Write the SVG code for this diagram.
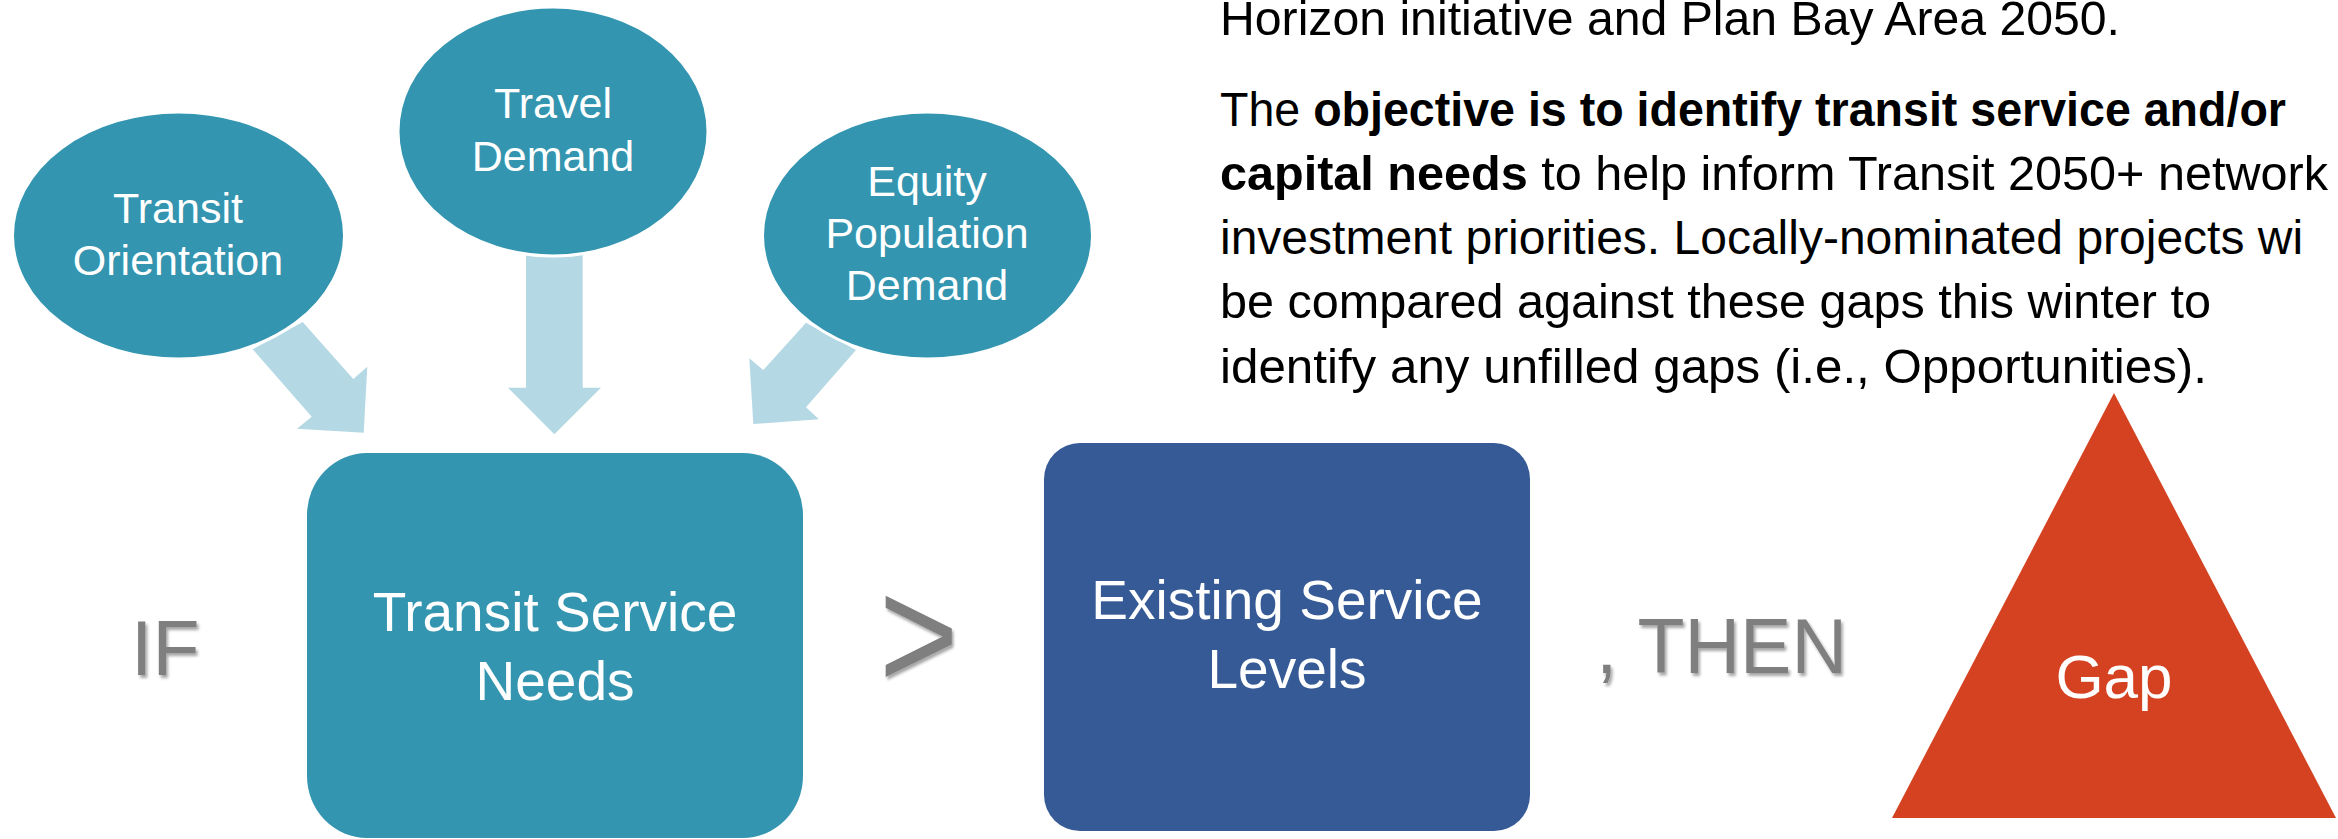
<svg xmlns="http://www.w3.org/2000/svg" width="2338" height="839" viewBox="0 0 2338 839">
<defs>
<style>
.t{font-family:"Liberation Sans",Arial,sans-serif;}
.wt{fill:#ffffff;text-anchor:middle;}
.gr{fill:#7f7f7f;}
.arrow{fill:#b5d9e4;}
.teal{fill:#3395b0;}
.para{font-family:"Liberation Sans",Arial,sans-serif;font-size:48px;fill:#000000;}
.b{font-weight:bold;}
</style>
<filter id="sh" x="-20%" y="-20%" width="140%" height="140%">
<feDropShadow dx="2" dy="3" stdDeviation="1.5" flood-color="#000000" flood-opacity="0.35"/>
</filter>
</defs>
<rect width="2338" height="839" fill="#ffffff"/>

<g id="connectors">
<polygon class="arrow" points="252.7,349.3 302.7,322 353.3,379 367.3,366.7 363.7,432.7 297,428.7 311.7,416.7"/>
<polygon class="arrow" points="526,240 582.7,240 582.7,387.7 601,387.7 554.3,434.3 508,387.7 526,387.7"/>
<polygon class="arrow" points="806,322.7 856,350 806,407.3 819,419.3 753.3,424 749.3,358.3 763.3,370"/>
</g>

<g id="transit-orientation">
<ellipse class="teal" cx="178.5" cy="235.5" rx="166" ry="123.5" stroke="#ffffff" stroke-width="3"/>
<text class="t wt" font-size="43" x="178" y="222.7">Transit</text>
<text class="t wt" font-size="43" x="178" y="275">Orientation</text>
</g>

<g id="travel-demand">
<ellipse class="teal" cx="553" cy="131.5" rx="155" ry="124.5" stroke="#ffffff" stroke-width="3"/>
<text class="t wt" font-size="43" x="553" y="118">Travel</text>
<text class="t wt" font-size="43" x="553" y="170.5">Demand</text>
</g>

<g id="equity-population-demand">
<ellipse class="teal" cx="927.5" cy="235.5" rx="165" ry="123.5" stroke="#ffffff" stroke-width="3"/>
<text class="t wt" font-size="43" x="927" y="196">Equity</text>
<text class="t wt" font-size="43" x="927" y="248">Population</text>
<text class="t wt" font-size="43" x="927" y="300">Demand</text>
</g>

<g id="if-label">
<text class="t gr" font-size="77" x="131" y="675" filter="url(#sh)">IF</text>
</g>

<g id="transit-service-needs">
<rect class="teal" x="307" y="453" width="496" height="385" rx="60" ry="62"/>
<text class="t wt" font-size="55" x="555" y="630.7">Transit Service</text>
<text class="t wt" font-size="55" x="555" y="700">Needs</text>
</g>

<g id="greater-than">
<text class="t gr" font-size="160" transform="translate(879,689) scale(0.85,1)" x="0" y="0" filter="url(#sh)">&gt;</text>
</g>

<g id="existing-service-levels">
<rect x="1044" y="443" width="486" height="388" rx="36" ry="36" fill="#365a96"/>
<text class="t wt" font-size="55" x="1287" y="619">Existing Service</text>
<text class="t wt" font-size="55" x="1287" y="688">Levels</text>
</g>

<g id="then-label">
<text class="t gr" font-size="77" x="1721.5" y="673" text-anchor="middle" filter="url(#sh)">, THEN</text>
</g>

<g id="gap">
<polygon points="2114,393 2336,818 1892,818" fill="#d54221"/>
<text class="t wt" font-size="62" x="2114" y="698">Gap</text>
</g>

<g id="paragraph">
<text class="para" x="1220" y="35" textLength="900" lengthAdjust="spacingAndGlyphs">Horizon initiative and Plan Bay Area 2050.</text>
<text class="para" x="1220" y="126" textLength="1066" lengthAdjust="spacingAndGlyphs">The <tspan class="b">objective is to identify transit service and/or</tspan></text>
<text class="para" x="1220" y="190" textLength="1108" lengthAdjust="spacingAndGlyphs"><tspan class="b">capital needs</tspan> to help inform Transit 2050+ network</text>
<text class="para" x="1220" y="254">investment priorities. Locally-nominated projects wi</text>
<text class="para" x="1220" y="318" textLength="991" lengthAdjust="spacingAndGlyphs">be compared against these gaps this winter to</text>
<text class="para" x="1220" y="383" textLength="987" lengthAdjust="spacingAndGlyphs">identify any unfilled gaps (i.e., Opportunities).</text>
</g>
</svg>
